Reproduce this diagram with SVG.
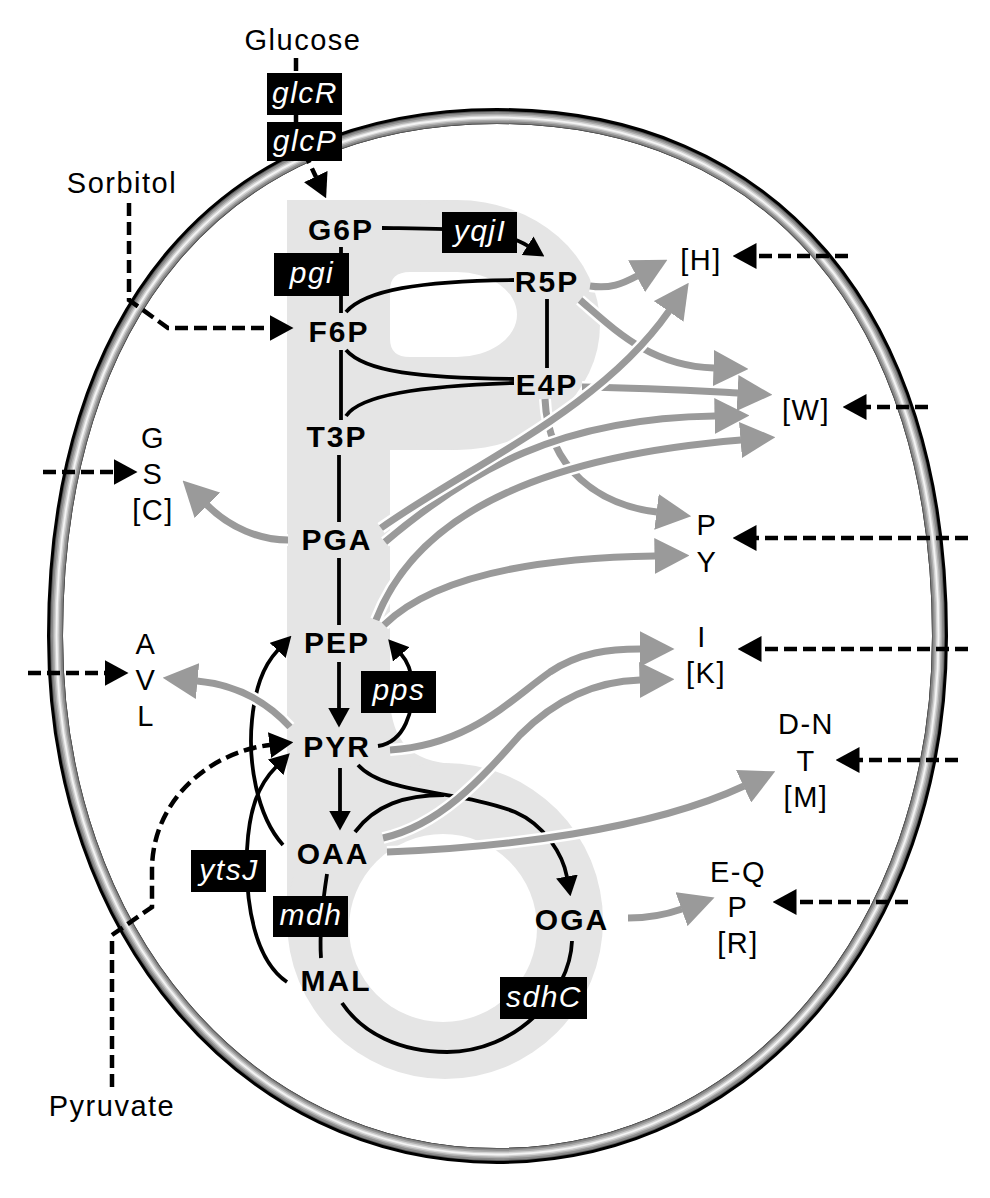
<svg xmlns="http://www.w3.org/2000/svg" width="990" height="1198" viewBox="0 0 990 1198">
<defs>
<style>
text{font-family:"Liberation Sans",Arial,Helvetica,sans-serif;text-anchor:middle}
.node text{font-weight:bold;font-size:30px;letter-spacing:2px;fill:#000}
.lbl{font-size:29px;letter-spacing:1.5px;fill:#000}
.enz rect{fill:#000}
.enz text{font-style:italic;font-size:30px;letter-spacing:1.5px;fill:#fff}
.blk{fill:none;stroke:#000;stroke-width:3.8}
.dash{fill:none;stroke:#000;stroke-width:4.5;stroke-dasharray:13 6}
.halo{fill:none;stroke:#fff;stroke-width:12}
.gl{fill:none;stroke:#9a9a9a;stroke-width:7}
</style>
<path id="ell" d="M55,636 C55,314 223,116 497,116 C771,116 940,314 940,636 C940,932 749,1156 497,1156 C245,1156 55,932 55,636 Z"/>
<marker id="ab" viewBox="0 -11 20 22" markerWidth="20" markerHeight="22" refX="0.5" refY="0" orient="auto" markerUnits="userSpaceOnUse"><path d="M0,-11 L20,0 L0,11 Z" fill="#000"/></marker>
<marker id="ad" viewBox="0 -13 24 26" markerWidth="24" markerHeight="26" refX="0.5" refY="0" orient="auto" markerUnits="userSpaceOnUse"><path d="M0,-13 L24,0 L0,13 Z" fill="#000"/></marker>
<marker id="ag" viewBox="0 -18 35 36" markerWidth="35" markerHeight="36" refX="0.5" refY="0" orient="auto" markerUnits="userSpaceOnUse"><path d="M0,-18 L35,0 L0,18 Z" fill="#9a9a9a"/></marker>
</defs>
<rect width="990" height="1198" fill="#fff"/>
<g id="cell" fill="none">
<use href="#ell" stroke="#000" stroke-width="16"/>
<g transform="translate(497.5 636) scale(0.9966 0.9971) translate(-497.5 -636)">
<use href="#ell" stroke="#5e5e5e" stroke-width="13"/>
<use href="#ell" stroke="#8a8a8a" stroke-width="11"/>
<use href="#ell" stroke="#acacac" stroke-width="7.5"/>
<use href="#ell" stroke="#d2d2d2" stroke-width="4.5"/>
<use href="#ell" stroke="#f3f3f3" stroke-width="1.8"/>
</g>
</g>
<g id="backbone" fill="#e5e5e5">
<rect x="287" y="200" width="170" height="250"/>
<ellipse cx="457" cy="325" rx="143" ry="125"/>
<rect x="287" y="200" width="103" height="700"/>
<path d="M390,700 C392,740 410,762 455,764 L455,800 L390,800 Z"/>
<circle cx="445" cy="921" r="158"/>
<path d="M390,290 Q390,272 410,272 H457 A60 42.5 0 0 1 457,357 H410 Q390,357 390,339 Z" fill="#fff"/>
<circle cx="443" cy="928" r="94" fill="#fff"/>
</g>
<g id="connectors">
<g id="black-lines">
<path class="blk" d="M341,247 V313"/>
<path class="blk" d="M341,350 V420"/>
<path class="blk" d="M339,455 V522"/>
<path class="blk" d="M339,558 V625"/>
<path class="blk" d="M339,662 V708" marker-end="url(#ab)"/>
<path class="blk" d="M340,768 V811" marker-end="url(#ab)"/>
<path class="blk" d="M382,228 C450,229 500,228 528,246" marker-end="url(#ab)"/>
<path class="blk" d="M346,312 C365,290 420,281 514,280"/>
<path class="blk" d="M547,299 V368"/>
<path class="blk" d="M346,350 C365,372 420,378 514,379"/>
<path class="blk" d="M346,416 C360,395 420,386 514,383"/>
<path class="blk" d="M378,746 C405,742 414,710 412,685 C411,670 408,662 401,654" marker-end="url(#ab)"/>
<path class="blk" d="M283,845 C256,815 248,760 252,720 C255,690 262,667 278,650" marker-end="url(#ab)"/>
<path class="blk" d="M287,982 C255,960 245,905 247,850 C249,810 258,785 276,767" marker-end="url(#ab)"/>
<path class="blk" d="M358,765 C385,795 460,790 515,812 C545,825 563,855 567,877" marker-end="url(#ab)"/>
<path class="blk" d="M355,832 C375,805 405,795 444,795"/>
<path class="blk" d="M327,874 C323,900 319,930 321,958"/>
<path class="blk" d="M572,941 C570,995 515,1052 447,1052 C400,1052 362,1033 342,1003"/>
</g>
<g id="gray-lines">
<path class="halo" d="M545,399 C548,470 600,505 657,512"/><path class="gl" d="M545,399 C548,470 600,505 657,512" marker-end="url(#ag)"/>
<path class="halo" d="M582,387 C650,388 700,391 738,393"/><path class="gl" d="M582,387 C650,388 700,391 738,393" marker-end="url(#ag)"/>
<path class="halo" d="M580,300 C615,330 650,366 714,368"/><path class="gl" d="M580,300 C615,330 650,366 714,368" marker-end="url(#ag)"/>
<path class="halo" d="M590,286 C610,289 622,284 637,276"/><path class="gl" d="M590,286 C610,289 622,284 637,276" marker-end="url(#ag)"/>
<path class="halo" d="M385,542 C470,470 560,418 715,416"/><path class="gl" d="M385,542 C470,470 560,418 715,416" marker-end="url(#ag)"/>
<path class="halo" d="M381,528 C470,465 600,410 669,311"/><path class="gl" d="M381,528 C470,465 600,410 669,311" marker-end="url(#ag)"/>
<path class="halo" d="M376,620 C420,505 560,455 741,440"/><path class="gl" d="M376,620 C420,505 560,455 741,440" marker-end="url(#ag)"/>
<path class="halo" d="M384,625 C430,580 520,558 655,556"/><path class="gl" d="M384,625 C430,580 520,558 655,556" marker-end="url(#ag)"/>
<path class="halo" d="M390,750 C470,745 510,700 550,672 C580,652 610,649 640,649"/><path class="gl" d="M390,750 C470,745 510,700 550,672 C580,652 610,649 640,649" marker-end="url(#ag)"/>
<path class="halo" d="M383,838 C440,825 480,780 520,735 C560,695 600,681 640,680"/><path class="gl" d="M383,838 C440,825 480,780 520,735 C560,695 600,681 640,680" marker-end="url(#ag)"/>
<path class="halo" d="M387,852 C500,848 650,830 744,786"/><path class="gl" d="M387,852 C500,848 650,830 744,786" marker-end="url(#ag)"/>
<path class="halo" d="M290,727 C270,705 240,685 197,681"/><path class="gl" d="M290,727 C270,705 240,685 197,681" marker-end="url(#ag)"/>
<path class="halo" d="M288,540 C260,540 230,528 207,505"/><path class="gl" d="M288,540 C260,540 230,528 207,505" marker-end="url(#ag)"/>
<path class="halo" d="M628,918 C650,918 665,915 682,909"/><path class="gl" d="M628,918 C650,918 665,915 682,909" marker-end="url(#ag)"/>
</g>
<g id="dashed-lines">
<path class="dash" d="M296,58 V135 L316,177" marker-end="url(#ad)"/>
<path class="dash" d="M129,203 V300 L168,328 H270" marker-end="url(#ad)"/>
<path class="dash" d="M112,1087 V935 L152,907 V870 C152,800 210,752 270,745" marker-end="url(#ad)"/>
<path class="dash" d="M848,256 H756" marker-end="url(#ad)"/>
<path class="dash" d="M928,407 H866" marker-end="url(#ad)"/>
<path class="dash" d="M968,538 H756" marker-end="url(#ad)"/>
<path class="dash" d="M968,649 H761" marker-end="url(#ad)"/>
<path class="dash" d="M958,760 H859" marker-end="url(#ad)"/>
<path class="dash" d="M908,902 H796" marker-end="url(#ad)"/>
<path class="dash" d="M43,472 H114" marker-end="url(#ad)"/>
<path class="dash" d="M28,673 H105" marker-end="url(#ad)"/>
</g>
</g>
<g class="node" id="G6P"><text x="341" y="240">G6P</text></g>
<g class="node" id="R5P"><text x="547" y="292">R5P</text></g>
<g class="node" id="F6P"><text x="339" y="342">F6P</text></g>
<g class="node" id="E4P"><text x="547" y="395">E4P</text></g>
<g class="node" id="T3P"><text x="337" y="447">T3P</text></g>
<g class="node" id="PGA"><text x="337" y="550">PGA</text></g>
<g class="node" id="PEP"><text x="337" y="653">PEP</text></g>
<g class="node" id="PYR"><text x="337" y="757">PYR</text></g>
<g class="node" id="OAA"><text x="333" y="864">OAA</text></g>
<g class="node" id="MAL"><text x="336" y="991">MAL</text></g>
<g class="node" id="OGA"><text x="572" y="930">OGA</text></g>
<g id="Glucose"><text class="lbl" x="303" y="50">Glucose</text></g>
<g id="Sorbitol"><text class="lbl" x="122" y="193">Sorbitol</text></g>
<g id="Pyruvate"><text class="lbl" x="112" y="1116">Pyruvate</text></g>
<g id="GSC"><text class="lbl" x="153" y="448">G</text><text class="lbl" x="153" y="484">S</text><text class="lbl" x="153" y="520">[C]</text></g>
<g id="AVL"><text class="lbl" x="146" y="654">A</text><text class="lbl" x="146" y="690">V</text><text class="lbl" x="146" y="726">L</text></g>
<g id="H"><text class="lbl" x="701" y="270">[H]</text></g>
<g id="W"><text class="lbl" x="806" y="420">[W]</text></g>
<g id="PY"><text class="lbl" x="707" y="535">P</text><text class="lbl" x="707" y="572">Y</text></g>
<g id="IK"><text class="lbl" x="702" y="647">I</text><text class="lbl" x="706" y="683">[K]</text></g>
<g id="DNTM"><text class="lbl" x="806" y="734">D-N</text><text class="lbl" x="806" y="771">T</text><text class="lbl" x="806" y="807">[M]</text></g>
<g id="EQPR"><text class="lbl" x="738" y="882">E-Q</text><text class="lbl" x="738" y="917">P</text><text class="lbl" x="738" y="953">[R]</text></g>
<g class="enz" id="glcR"><rect x="267" y="73" width="75" height="42"/><text x="305" y="103">glcR</text></g>
<g class="enz" id="glcP"><rect x="267" y="122" width="75" height="39"/><text x="305" y="151">glcP</text></g>
<g class="enz" id="yqjI"><rect x="442" y="212" width="75" height="41"/><text x="480" y="241">yqjI</text></g>
<g class="enz" id="pgi"><rect x="274" y="253" width="75" height="43"/><text x="312" y="283">pgi</text></g>
<g class="enz" id="pps"><rect x="361" y="671" width="75" height="42"/><text x="399" y="700">pps</text></g>
<g class="enz" id="ytsJ"><rect x="191" y="850" width="75" height="42"/><text x="229" y="880">ytsJ</text></g>
<g class="enz" id="mdh"><rect x="273" y="896" width="75" height="41"/><text x="311" y="925">mdh</text></g>
<g class="enz" id="sdhC"><rect x="500" y="977" width="87" height="42"/><text x="544" y="1007">sdhC</text></g>
</svg>
